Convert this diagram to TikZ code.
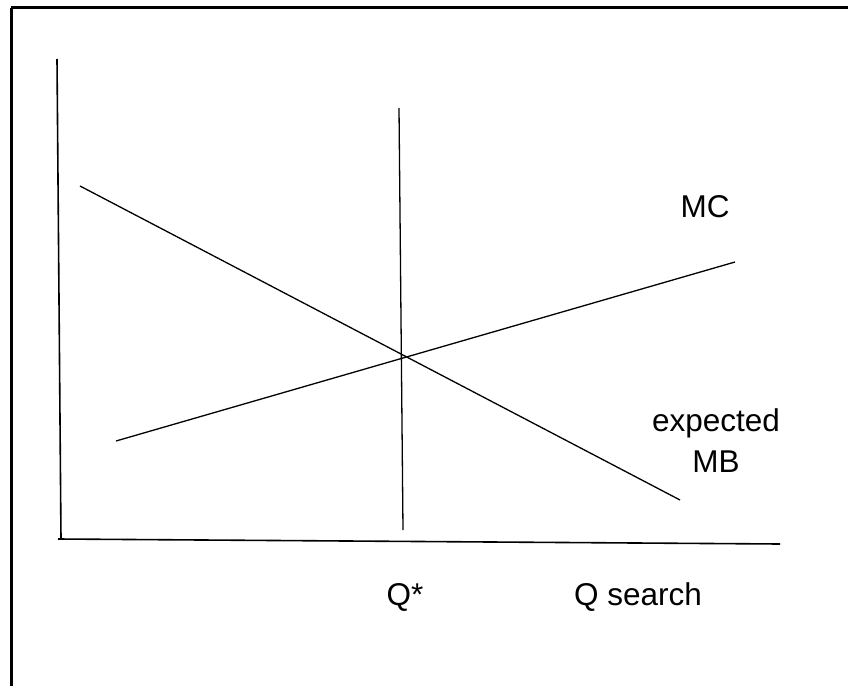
\documentclass[tikz,border=0pt]{standalone}
\usepackage{fontspec}
\setmainfont{Liberation Sans}
\usetikzlibrary{positioning,calc}

\begin{document}
\begin{tikzpicture}[
  x=1pt, y=-1pt,
  font=\fontsize{31.5}{41}\selectfont,
  frame/.style={line width=3pt},
  curve/.style={line width=1.3pt},
  axis/.style={line width=1.6pt},
  label/.style={inner sep=0pt, align=center}
]
\path[use as bounding box] (0,0) rectangle (850,687);
% frame, open at the right and the bottom
\coordinate (fcorner) at (11,8);
\draw[frame] (fcorner) -- (848,8);
\draw[frame] (fcorner) -- (11,686);

% axes
\coordinate (ytop) at (57,59);
\coordinate (origin) at (61,539);
\coordinate (xend) at (780,544);
\draw[axis] (ytop) -- (origin);
\draw[axis] (58,539) -- (xend);

% Q* line
\coordinate (qtop) at (399,108);
\coordinate (qbot) at (403,530);
\draw[curve] (qtop) -- (qbot);

% MC and expected MB
\coordinate (mcstart) at (116,441);
\coordinate (mcend) at (735,262);
\coordinate (mbstart) at (80,186);
\coordinate (mbend) at (680,500);
\draw[curve] (mcstart) -- (mcend);
\draw[curve] (mbstart) -- (mbend);

\node[label] (mc) at (705,207) {MC};
\node[label] (mb) at (716,441) {expected\\MB};
\node[label] (qstar) at (405,597) {Q*};
\node[label] (qsearch) at (638,597) {Q search};
\end{tikzpicture}
\end{document}
